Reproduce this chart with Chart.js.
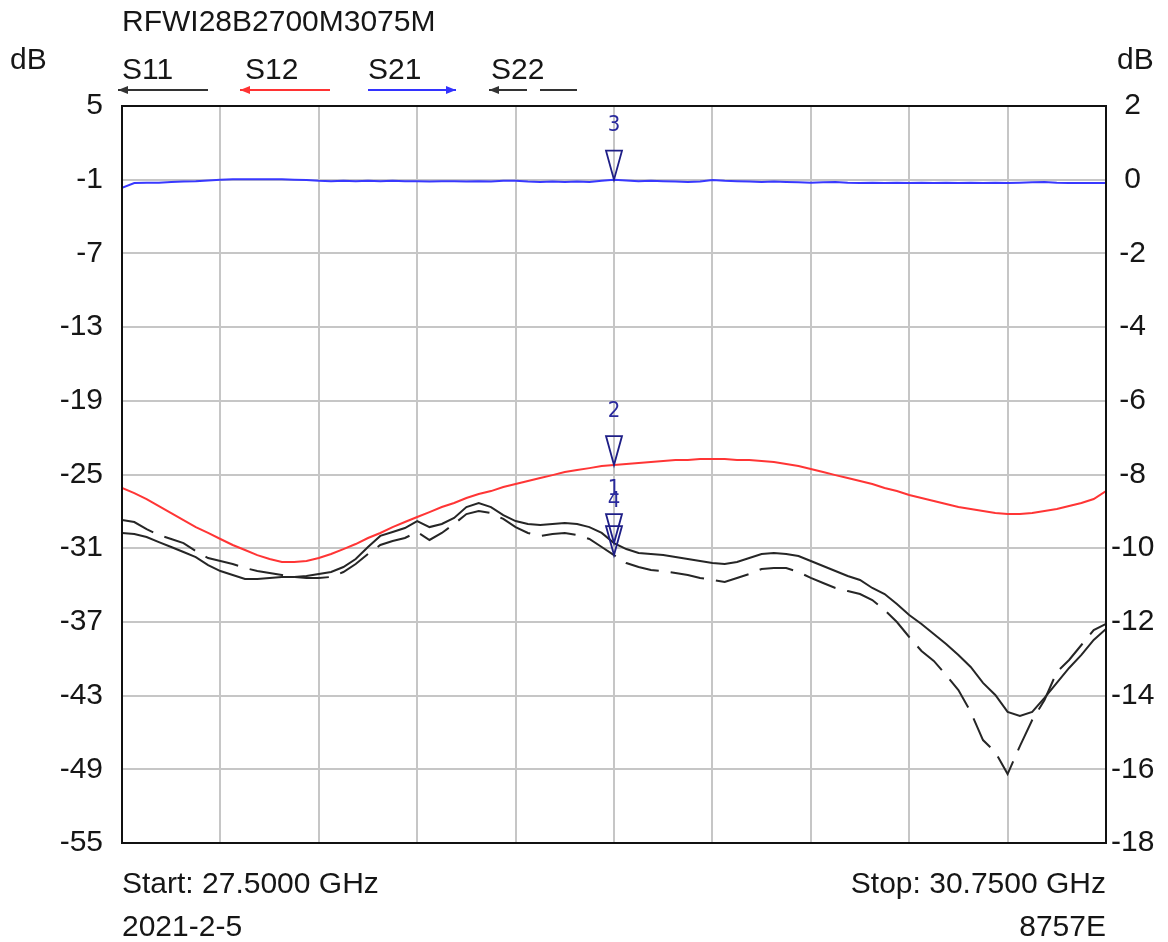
<!DOCTYPE html>
<html>
<head>
<meta charset="utf-8">
<script src="https://cdn.jsdelivr.net/npm/chart.js@4.4.0/dist/chart.umd.min.js"></script>
<style>
  html, body { margin: 0; padding: 0; background: #fff; }
  canvas { display: block; }
</style>
</head>
<body>
<canvas id="vna" width="1168" height="942"></canvas>
<script>
// sweep: 81 points, 27.5 -> 30.75 GHz
const startGHz = 27.5, stopGHz = 30.75;
const freqs = Array.from({length: 81}, (_, i) => startGHz + i * (stopGHz - startGHz) / 80);

// traces (dB)
const s11 = [-29.76, -29.84, -30.09, -30.5, -30.9, -31.31, -31.72, -32.37, -32.86, -33.18,
  -33.5, -33.5, -33.42, -33.34, -33.34, -33.26, -33.1, -32.94, -32.53, -31.88,
  -30.9, -30.0, -29.68, -29.36, -28.79, -29.28, -29.03, -28.54, -27.65, -27.32,
  -27.65, -28.3, -28.79, -29.03, -29.11, -29.03, -28.95, -29.03, -29.28, -29.76,
  -30.58, -31.07, -31.39, -31.47, -31.56, -31.72, -31.88, -32.04, -32.21, -32.29,
  -32.12, -31.8, -31.47, -31.39, -31.47, -31.64, -32.04, -32.45, -32.86, -33.26,
  -33.59, -34.24, -34.73, -35.54, -36.44, -37.17, -37.98, -38.79, -39.69, -40.67,
  -41.97, -42.95, -44.33, -44.66, -44.33, -43.19, -41.97, -40.75, -39.69, -38.47, -37.58];

const s12 = [-26.1, -26.51, -27.0, -27.57, -28.14, -28.71, -29.28, -29.76, -30.25, -30.74,
  -31.15, -31.56, -31.88, -32.12, -32.12, -32.04, -31.8, -31.47, -31.07, -30.66,
  -30.17, -29.76, -29.28, -28.87, -28.46, -28.06, -27.65, -27.32, -26.91, -26.59,
  -26.35, -26.02, -25.78, -25.53, -25.29, -25.05, -24.8, -24.64, -24.48, -24.31,
  -24.23, -24.15, -24.07, -23.98, -23.9, -23.82, -23.82, -23.74, -23.74, -23.74,
  -23.82, -23.82, -23.9, -23.98, -24.15, -24.31, -24.55, -24.8, -25.05, -25.29,
  -25.53, -25.78, -26.1, -26.35, -26.67, -26.92, -27.16, -27.4, -27.65, -27.81,
  -27.97, -28.14, -28.22, -28.22, -28.14, -27.97, -27.81, -27.57, -27.32, -27.0, -26.35];

// S21 uses the right-hand axis
const s21 = [-0.22, -0.09, -0.08, -0.08, -0.06, -0.05, -0.04, -0.02, 0.0, 0.01,
  0.01, 0.01, 0.01, 0.01, 0.0, -0.01, -0.03, -0.04, -0.03, -0.04,
  -0.03, -0.04, -0.03, -0.04, -0.04, -0.05, -0.04, -0.04, -0.05, -0.04,
  -0.05, -0.03, -0.03, -0.05, -0.06, -0.05, -0.06, -0.05, -0.06, -0.03,
  0.0, -0.02, -0.04, -0.03, -0.04, -0.05, -0.06, -0.05, -0.01, -0.03,
  -0.04, -0.05, -0.06, -0.05, -0.06, -0.07, -0.08, -0.07, -0.06, -0.08,
  -0.09, -0.08, -0.09, -0.08, -0.09, -0.08, -0.09, -0.08, -0.09, -0.08,
  -0.09, -0.08, -0.09, -0.08, -0.07, -0.06, -0.08, -0.09, -0.09, -0.09, -0.09];

const s22 = [-28.71, -28.87, -29.44, -29.93, -30.25, -30.58, -31.23, -31.8, -32.04, -32.29,
  -32.61, -32.86, -33.02, -33.18, -33.34, -33.42, -33.42, -33.34, -32.94, -32.29,
  -31.47, -30.74, -30.41, -30.17, -29.68, -30.33, -29.76, -29.03, -28.22, -27.97,
  -28.14, -28.62, -29.28, -29.76, -30.01, -29.84, -29.76, -29.93, -30.25, -30.9,
  -31.56, -32.21, -32.53, -32.78, -32.86, -33.02, -33.18, -33.42, -33.59, -33.75,
  -33.42, -33.1, -32.69, -32.61, -32.61, -32.94, -33.42, -33.83, -34.24, -34.49,
  -34.73, -35.22, -36.03, -37.01, -38.23, -39.37, -40.18, -41.32, -42.55, -44.33,
  -46.62, -47.6, -49.39, -47.11, -44.99, -43.36, -41.08, -40.1, -38.88, -37.66, -37.17];

// markers: number, trace, frequency
const markerNums = ['1', '2', '3', '4'];
const markerTraces = ['S11', 'S12', 'S21', 'S22'];
const markerFreqs = [29.125, 29.125, 29.125, 29.125];

const FONT = '"Liberation Sans", Arial, sans-serif';
const TXT = '#161616';

const pts = arr => arr.map((v, i) => ({x: freqs[i], y: v}));

// little arrow used in the legend row
function legendArrow(ctx, x1, x2, y, color, dir, dash) {
  ctx.save();
  ctx.strokeStyle = color;
  ctx.fillStyle = color;
  ctx.lineWidth = 2;
  if (dash) ctx.setLineDash(dash);
  ctx.beginPath();
  ctx.moveTo(x1, y);
  ctx.lineTo(x2, y);
  ctx.stroke();
  ctx.setLineDash([]);
  const tip = dir < 0 ? x1 : x2;
  ctx.beginPath();
  ctx.moveTo(tip, y);
  ctx.lineTo(tip - dir * 10, y - 4);
  ctx.lineTo(tip - dir * 10, y + 4);
  ctx.closePath();
  ctx.fill();
  ctx.restore();
}

const decorations = {
  id: 'decorations',
  afterDraw(chart) {
    const ctx = chart.ctx, area = chart.chartArea;
    ctx.save();

    // frame around the grid
    ctx.strokeStyle = '#111';
    ctx.lineWidth = 2;
    ctx.strokeRect(area.left, area.top, area.right - area.left, area.bottom - area.top);

    // markers
    const xs = chart.scales.x;
    markerNums.forEach((num, k) => {
      const di = chart.data.datasets.findIndex(d => d.label === markerTraces[k]);
      const ds = chart.data.datasets[di];
      const idx = freqs.findIndex(f => Math.abs(f - markerFreqs[k]) < 1e-6);
      const ys = chart.scales[ds.yAxisID];
      const px = xs.getPixelForValue(markerFreqs[k]);
      const py = ys.getPixelForValue(ds.data[idx].y);
      ctx.strokeStyle = '#1e1e86';
      ctx.lineWidth = 1.8;
      ctx.beginPath();
      ctx.moveTo(px, py);
      ctx.lineTo(px - 8, py - 29);
      ctx.lineTo(px + 8, py - 29);
      ctx.closePath();
      ctx.stroke();
      ctx.fillStyle = '#2a2a9c';
      ctx.font = '22px "Liberation Sans Narrow", "DejaVu Sans Condensed", sans-serif';
      ctx.textAlign = 'center';
      ctx.textBaseline = 'middle';
      ctx.fillText(num, px, py - 54);
    });

    // header and footer text
    ctx.fillStyle = TXT;
    ctx.font = '30px ' + FONT;
    ctx.textBaseline = 'alphabetic';
    ctx.textAlign = 'left';
    ctx.fillText('RFWI28B2700M3075M', 122, 31);
    ctx.fillText('dB', 10, 69);
    ctx.fillText('dB', 1117, 69);
    ctx.fillText('S11', 122, 79);
    ctx.fillText('S12', 245, 79);
    ctx.fillText('S21', 368, 79);
    ctx.fillText('S22', 491, 79);
    ctx.fillText('Start: 27.5000 GHz', 122, 893);
    ctx.fillText('2021-2-5', 122, 936);
    ctx.textAlign = 'right';
    ctx.fillText('Stop: 30.7500 GHz', 1106, 893);
    ctx.fillText('8757E', 1106, 936);

    legendArrow(ctx, 118, 208, 90, '#333', -1);
    legendArrow(ctx, 240, 330, 90, '#ff3333', -1);
    legendArrow(ctx, 368, 456, 90, '#3333ff', 1);
    legendArrow(ctx, 489, 577, 90, '#333', -1, [38, 13, 37, 100]);

    ctx.restore();
  }
};

new Chart(document.getElementById('vna'), {
  type: 'line',
  data: {
    datasets: [
      { label: 'S11', data: pts(s11), yAxisID: 'y', borderColor: '#262626', borderWidth: 2 },
      { label: 'S12', data: pts(s12), yAxisID: 'y', borderColor: '#ff3535', borderWidth: 2 },
      { label: 'S21', data: pts(s21), yAxisID: 'y2', borderColor: '#3838ff', borderWidth: 2 },
      { label: 'S22', data: pts(s22), yAxisID: 'y', borderColor: '#262626', borderWidth: 2, borderDash: [34, 12] }
    ]
  },
  options: {
    responsive: false,
    animation: false,
    devicePixelRatio: 1,
    elements: { point: { radius: 0 }, line: { tension: 0 } },
    layout: { padding: { top: 106, bottom: 99, left: 0, right: 0 } },
    plugins: { legend: { display: false }, title: { display: false }, tooltip: { enabled: false } },
    scales: {
      x: {
        type: 'linear',
        min: startGHz,
        max: stopGHz,
        afterBuildTicks: s => { s.ticks = Array.from({length: 11}, (_, k) => ({value: startGHz + k * 0.325})); },
        afterFit: s => { s.height = 0; },
        ticks: { display: false },
        grid: { color: '#c6c6c6', lineWidth: 2, drawTicks: false },
        border: { display: false }
      },
      y: {
        position: 'left',
        min: -55,
        max: 5,
        afterFit: s => { s.width = 122; },
        ticks: { stepSize: 6, padding: 19, color: TXT, font: { family: FONT, size: 30 } },
        grid: { color: '#c6c6c6', lineWidth: 2, drawTicks: false },
        border: { display: false }
      },
      y2: {
        position: 'right',
        min: -18,
        max: 2,
        afterFit: s => { s.width = 62; },
        ticks: { stepSize: 2, padding: 5, crossAlign: 'center', color: TXT, font: { family: FONT, size: 30 } },
        grid: { display: false, drawTicks: false },
        border: { display: false }
      }
    }
  },
  plugins: [decorations]
});
</script>
</body>
</html>
